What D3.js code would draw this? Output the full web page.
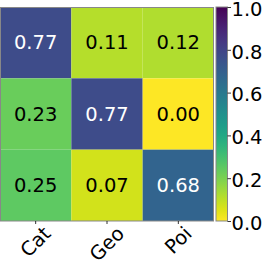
<!DOCTYPE html>
<html>
<head>
<meta charset="utf-8">
<script src="https://cdn.jsdelivr.net/npm/d3@7"></script>
<style>
  body { margin: 0; background: #fff; }
  text { font-family: "DejaVu Sans", sans-serif; }
</style>
</head>
<body>
<div id="canvas"></div>
<script>
const rowLabels = ["Cat", "Geo", "Poi"];
const colLabels = ["Cat", "Geo", "Poi"];
const values = [
  [0.77, 0.11, 0.12],
  [0.23, 0.77, 0.00],
  [0.25, 0.07, 0.68]
];
const cbarTicks = [0.0, 0.2, 0.4, 0.6, 0.8, 1.0];

const width = 262, height = 262;
const fontSize = 19.5;

const svg = d3.select("#canvas").append("svg")
  .attr("width", width)
  .attr("height", height);

const color = v => d3.interpolateViridis(1 - v);

const x = d3.scaleBand().domain(colLabels).range([0, 214]);
const y = d3.scaleBand().domain(rowLabels).range([7, 221]);

const cells = [];
values.forEach((row, i) => row.forEach((v, j) => cells.push({ r: rowLabels[i], c: colLabels[j], v })));

svg.selectAll("rect.cell")
  .data(cells)
  .enter()
  .append("rect")
  .attr("class", "cell")
  .attr("x", d => x(d.c))
  .attr("y", d => y(d.r))
  .attr("width", x.bandwidth())
  .attr("height", y.bandwidth())
  .attr("fill", d => color(d.v));

svg.selectAll("text.val")
  .data(cells)
  .enter()
  .append("text")
  .attr("class", "val")
  .attr("x", d => x(d.c) + x.bandwidth() / 2)
  .attr("y", d => y(d.r) + y.bandwidth() / 2)
  .attr("text-anchor", "middle")
  .attr("dominant-baseline", "central")
  .attr("font-size", fontSize)
  .attr("fill", d => d.v > 0.5 ? "#fff" : "#000")
  .text(d => d.v.toFixed(2));

// frame around heatmap
svg.append("rect")
  .attr("x", 0.5).attr("y", 7.5)
  .attr("width", 213).attr("height", 213.5)
  .attr("fill", "none")
  .attr("stroke", "#888")
  .attr("stroke-width", 1);

// x ticks + rotated labels
const xt = svg.append("g");
colLabels.forEach(c => {
  const cx = x(c) + x.bandwidth() / 2;
  xt.append("line")
    .attr("x1", cx).attr("x2", cx)
    .attr("y1", 221).attr("y2", 224)
    .attr("stroke", "#000").attr("stroke-width", 0.8);
  const t = xt.append("text")
    .attr("font-size", fontSize)
    .attr("text-anchor", "middle")
    .attr("dominant-baseline", "central")
    .text(c);
  const w = t.node().getComputedTextLength();
  const h = (w + fontSize * 0.9) * Math.SQRT1_2;
  t.attr("transform", `translate(${cx},${224 + h / 2}) rotate(-45)`);
});

// colorbar
const cb = { x: 216, w: 11.5, top: 7, bottom: 221 };
const cy = d3.scaleLinear().domain([0, 1]).range([cb.bottom, cb.top]);

const grad = svg.append("defs").append("linearGradient")
  .attr("id", "cbgrad")
  .attr("x1", 0).attr("y1", 1).attr("x2", 0).attr("y2", 0);
d3.range(0, 1.0001, 0.05).forEach(t => {
  grad.append("stop").attr("offset", t).attr("stop-color", color(t));
});

svg.append("rect")
  .attr("x", cb.x).attr("y", cb.top)
  .attr("width", cb.w).attr("height", cb.bottom - cb.top)
  .attr("fill", "url(#cbgrad)")
  .attr("stroke", "#888")
  .attr("stroke-width", 1);

const axis = d3.axisRight(cy)
  .tickValues(cbarTicks)
  .tickFormat(d3.format(".1f"))
  .tickSize(3.5)
  .tickPadding(0.5);

const ag = svg.append("g")
  .attr("transform", `translate(${cb.x + cb.w},0)`)
  .call(axis);
ag.select(".domain").remove();
ag.selectAll("text")
  .attr("font-size", fontSize)
  .attr("font-family", "DejaVu Sans")
  .attr("dy", "0.42em")
  .attr("fill", "#000");
ag.selectAll("line").attr("stroke", "#000").attr("stroke-width", 0.8);
</script>
</body>
</html>
